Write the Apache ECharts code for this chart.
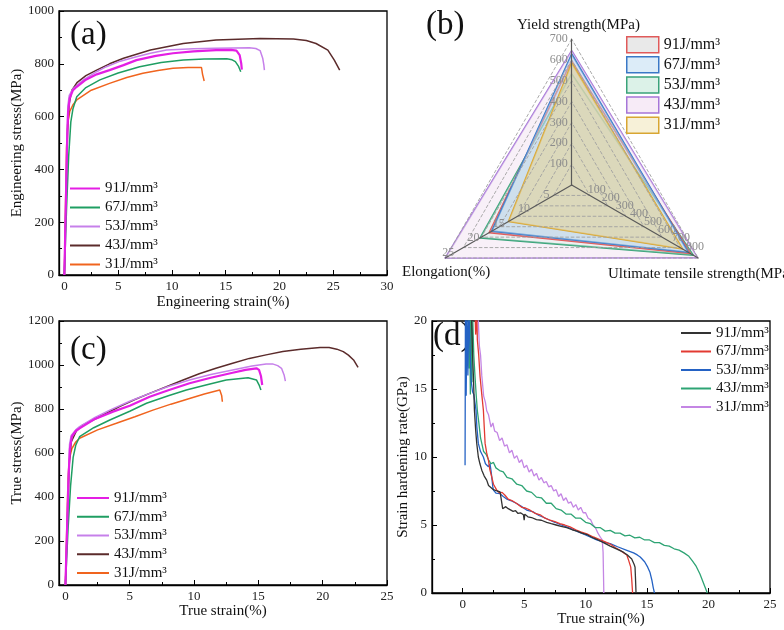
<!DOCTYPE html>
<html><head><meta charset="utf-8">
<script src="https://cdn.jsdelivr.net/npm/echarts@6/dist/echarts.min.js"></script>
<style>html,body{margin:0;padding:0;background:#fff}#c{width:784px;height:630px}</style>
</head><body><div id="c"></div>
<script>
const energies = ['91','67','53','43','31'];

// (a) Engineering stress (MPa) vs engineering strain (%)
const engA91 = [[0,0],[0.15,300],[0.25,500],[0.35,620],[0.5,670],[0.8,700],[1.15,713],[2,740],[3,760],[4.2,776],[5.5,795],[6.7,814],[8.5,830],[10.1,840],[12,847],[14.1,852],[15.5,853],[16.0,850],[16.3,833],[16.45,800],[16.5,778]];
const engA67 = [[0,0],[0.2,250],[0.4,450],[0.6,580],[0.8,630],[1.15,675],[2,710],[3.3,739],[5,765],[7,789],[9,805],[11.05,814],[13,818],[15.1,819],[15.6,815],[15.9,808],[16.2,790],[16.4,770]];
const engA53 = [[0,0],[0.15,320],[0.25,520],[0.32,640],[0.45,680],[0.8,705],[1.76,739],[3,770],[3.9,789],[5.2,810],[6.7,827],[8,840],[9.5,852],[12,857],[14,859],[15.7,860],[17.2,861],[17.8,858],[18.2,850],[18.45,820],[18.55,795],[18.6,776]];
const engA43 = [[0,0],[0.15,280],[0.3,550],[0.45,650],[0.7,700],[1.2,730],[2,755],[3,776],[4.2,800],[5.5,821],[8,852],[11.05,877],[14.1,890],[18.2,896],[21.3,894],[22.5,888],[23.4,877],[24.5,852],[25.1,814],[25.6,776]];
const engA31 = [[0,0],[0.1,250],[0.2,480],[0.3,570],[0.5,620],[0.8,645],[1.15,663],[2.5,700],[4.2,726],[5.8,748],[7.3,764],[8.7,775],[10.1,783],[11.5,786],[12.75,786],[12.85,760],[13.0,735]];

// (c) True stress (MPa) vs true strain (%)
const trueC91 = [[0,0],[0.15,300],[0.25,500],[0.35,620],[0.5,675],[0.8,700],[1.1,712],[2.3,755],[3.7,788],[5,815],[6.55,856],[8,885],[9.65,917],[11.3,942],[13.0,965],[14.0,978],[14.85,985],[15.05,978],[15.2,950],[15.3,909]];
const trueC67 = [[0,0],[0.2,250],[0.4,450],[0.6,580],[0.8,635],[1.1,674],[2.2,715],[3.45,750],[5,790],[6.3,826],[8,860],[9.4,886],[11,910],[12.5,932],[14.2,942],[14.85,932],[15.05,910],[15.2,886]];
const trueC53 = [[0,0],[0.15,320],[0.25,520],[0.32,640],[0.45,680],[0.8,705],[1.1,720],[2.3,762],[3.45,795],[5,835],[6.55,871],[8,902],[9.65,932],[11.3,957],[13.0,977],[14.5,995],[15.6,1005],[16.1,1005],[16.5,997],[16.8,985],[17.0,955],[17.1,927]];
const trueC43 = [[0,0],[0.15,280],[0.3,550],[0.45,650],[0.85,700],[1.3,725],[2.15,750],[3,775],[4.2,811],[5.4,843],[6.55,871],[7.8,900],[9.15,932],[10.4,960],[11.7,985],[13,1008],[14.3,1030],[15.6,1046],[16.9,1061],[18.3,1072],[19.8,1080],[20.5,1080],[21.1,1072],[21.6,1061],[22.0,1045],[22.4,1023],[22.75,989]];
const trueC31 = [[0,0],[0.1,250],[0.2,480],[0.3,570],[0.5,620],[0.8,650],[1.1,667],[2.5,705],[3.96,735],[5.4,765],[6.8,795],[8.2,822],[9.65,848],[10.8,868],[12.0,886],[12.1,885],[12.15,860],[12.2,833]];

// (d) Strain hardening rate (GPa) vs true strain (%)
const hardD91 = [[0.7,21],[0.73,20],[0.8,17.5],[0.87,15.9],[0.95,13.45],[1.05,12],[1.14,11],[1.27,10],[1.4,9.5],[1.55,9.03],[1.75,8.6],[1.95,8.3],[2.1,7.9],[2.22,7.8],[2.5,7.6],[2.8,7.5],[3.04,7.44],[3.2,7.3],[3.25,6.2],[3.35,6.1],[3.5,6.35],[3.7,6.2],[3.85,6.25],[4.1,6.0],[4.3,6.05],[4.5,5.85],[4.7,5.9],[4.94,5.75],[5.0,5.35],[5.05,5.8],[5.3,5.6],[5.6,5.55],[6.0,5.4],[6.4,5.35],[6.83,5.2],[7.2,5.1],[7.6,5.0],[8.0,4.9],[8.46,4.8],[8.9,4.65],[9.3,4.55],[9.7,4.4],[10.1,4.3],[10.5,4.1],[10.9,3.95],[11.45,3.7],[12.0,3.45],[12.5,3.25],[13.07,3.0],[13.4,2.8],[13.75,2.5],[13.95,2.1],[14.02,1.9],[14.06,1.0],[14.1,0]];
const hardD67 = [[1.0,21],[1.05,19],[1.15,20.5],[1.19,18.6],[1.3,17.5],[1.41,15.9],[1.55,14.6],[1.68,13.45],[1.75,12.2],[1.82,11],[1.95,10.3],[2.09,9.77],[2.2,9.1],[2.36,8.54],[2.5,8.0],[2.77,7.56],[3.0,7.35],[3.2,7.4],[3.44,7.19],[3.7,6.9],[4.0,6.8],[4.39,6.58],[4.8,6.3],[5.1,6.25],[5.48,6.09],[5.9,5.85],[6.3,5.75],[6.7,5.5],[7.1,5.35],[7.5,5.25],[7.9,5.1],[8.3,5.0],[8.73,4.86],[9.2,4.65],[9.6,4.5],[10.1,4.35],[10.63,4.12],[11.1,3.95],[11.5,3.8],[12.0,3.6],[12.4,3.35],[12.8,3.14],[13.1,2.95],[13.35,2.8],[13.5,2.4],[13.67,1.9],[13.75,1.0],[13.82,0]];
const hardD53 = [[0.19,9.4],[0.2,13],[0.22,21],[0.28,14.5],[0.35,21],[0.42,16],[0.5,21],[0.6,17.8],[0.7,15.5],[0.8,14.8],[0.9,14.6],[1.0,14.55],[1.08,13.45],[1.15,12.2],[1.27,11],[1.45,10.4],[1.68,10],[1.85,9.5],[2.09,9.28],[2.22,9.5],[2.3,9.0],[2.36,8.54],[2.45,7.8],[2.5,7.56],[2.7,7.35],[3.04,7.3],[3.3,7.1],[3.6,6.9],[3.9,6.8],[4.39,6.58],[4.8,6.35],[5.2,6.1],[5.75,5.96],[6.2,5.7],[6.6,5.55],[7.1,5.35],[7.5,5.2],[8.0,5.0],[8.5,4.85],[8.9,4.7],[9.4,4.5],[9.9,4.3],[10.36,4.12],[10.9,3.9],[11.4,3.75],[12.0,3.63],[12.6,3.4],[13.35,3.14],[13.9,2.95],[14.2,2.8],[14.44,2.65],[14.8,2.3],[15.05,1.9],[15.24,1.5],[15.4,0.9],[15.5,0.4],[15.6,0]];
const hardD43 = [[0.45,21],[0.5,16.5],[0.55,21],[0.62,14.6],[0.68,21],[0.75,15.5],[0.82,20],[0.9,17.5],[1.0,15.9],[1.1,14.5],[1.19,13.4],[1.3,12.6],[1.45,11.4],[1.6,10.8],[1.7,10.4],[1.9,10.2],[2.1,9.8],[2.3,9.5],[2.5,9.6],[2.7,9.2],[3.0,9.0],[3.3,8.9],[3.6,8.5],[4.0,8.4],[4.4,8.0],[4.8,7.9],[5.2,7.5],[5.6,7.4],[6.0,7.05],[6.4,7.0],[6.8,6.6],[7.2,6.6],[7.6,6.2],[8.0,6.1],[8.4,5.8],[8.8,5.8],[9.2,5.5],[9.6,5.5],[10.0,5.2],[10.4,5.1],[10.8,4.8],[11.2,4.8],[11.6,4.55],[12.0,4.6],[12.4,4.4],[12.8,4.4],[13.2,4.2],[13.6,4.25],[14.0,4.05],[14.4,4.1],[14.8,3.9],[15.2,3.9],[15.6,3.7],[16.0,3.7],[16.4,3.5],[16.8,3.45],[17.2,3.25],[17.6,3.15],[18.0,2.95],[18.4,2.7],[18.7,2.35],[19.0,1.95],[19.3,1.4],[19.6,0.7],[19.9,0]];
const hardD31 = [[1.15,21],[1.27,20],[1.35,18.2],[1.45,17.5],[1.55,16],[1.7,14.5],[1.85,14.0],[1.95,13.4],[2.1,13.1],[2.3,12.2],[2.45,12.5],[2.6,11.9],[2.8,11.8],[3.0,11.2],[3.2,11.4],[3.4,10.8],[3.6,10.9],[3.8,10.3],[4.0,10.5],[4.2,9.9],[4.4,10.1],[4.6,9.6],[4.8,9.8],[5.0,9.2],[5.2,9.4],[5.4,8.9],[5.6,9.1],[5.8,8.6],[6.0,8.8],[6.2,8.3],[6.4,8.5],[6.6,8.1],[6.8,8.2],[7.0,7.8],[7.2,7.9],[7.4,7.5],[7.6,7.6],[7.8,7.1],[8.0,7.3],[8.2,6.8],[8.4,7.0],[8.6,6.6],[8.8,6.7],[9.0,6.3],[9.2,6.5],[9.4,6.1],[9.6,6.3],[9.8,5.9],[10.0,5.9],[10.2,5.5],[10.4,5.4],[10.6,5.0],[10.8,4.8],[11.0,4.4],[11.2,4.1],[11.35,3.9],[11.42,3.0],[11.45,1.5],[11.48,0]];

// (b) radar
const radarNames = ['Yield strength(MPa)','Elongation(%)','Ultimate tensile strength(MPa)'];
const radarMax = [700,25,900];
const yieldStrength = [595,628,533,644,585];
const elongation = [16.3,15.8,18.1,25,12.5];
const tensileStrength = [845,830,865,895,790];

// tick labels
const ticksAX = [0,5,10,15,20,25,30];
const minorAX = [2.5,7.5,12.5,17.5,22.5,27.5];
const ticksAY = [0,200,400,600,800,1000];
const ticksCX = [0,5,10,15,20,25];
const minorCX = [2.5,7.5,12.5,17.5,22.5];
const ticksCY = [0,200,400,600,800,1000,1200];
const ticksDX = [0,5,10,15,20,25];
const minorDX = [2.5,7.5,12.5,17.5,22.5];
const ticksDY = [0,5,10,15,20];

const serif = 'Liberation Serif';
const curveColors = ['#e41ee4','#1f9e62','#c680ea','#5b2b2b','#f0641e'];
const curveWidths = [2.2,1.5,1.5,1.5,1.5];
const hardColors = ['#333333','#e23a32','#2462c4','#2ea474','#c486e4'];
const radarLine = ['#e05a5a','#3a78c6','#3aa37a','#a676d8','#d8a632'];
const radarFill = ['#d2d2d2','#b4d6f2','#d4eee2','#f3e4f3','#e6d294'];
const radarOpacity = [0.3,0.45,0.3,0.55,0.55];
const radarLegendFill = ['#e9e9e9','#dcecf8','#dcf2e8','#f7ebf7','#f7f1d8'];
const drawOrder = [3,2,0,1,4];

const engA = [engA91,engA67,engA53,engA43,engA31];
const trueC = [trueC91,trueC67,trueC53,trueC43,trueC31];
const hardD = [hardD91,hardD67,hardD53,hardD43,hardD31];

const labelFmt = n => n.slice(1) + 'J/mm³';
const plainFmt = v => String(v);
const tickLabelStyle = {fontFamily: serif, fontSize: 13, color: '#222', margin: 5, formatter: plainFmt};
const nameStyle = {fontFamily: serif, fontSize: 15, color: '#111'};

function xAxes(gi, min, max, major, minor, name, gap) {
  return [
    {type:'value', gridIndex:gi, min, max, position:'bottom', name, nameLocation:'middle', nameGap:gap,
     nameTextStyle:nameStyle,
     axisLine:{onZero:false, lineStyle:{color:'#000', width:1.3}},
     axisTick:{inside:true, length:5, customValues:major, lineStyle:{color:'#000'}},
     axisLabel:Object.assign({customValues:major}, tickLabelStyle),
     splitLine:{show:false}},
    {type:'value', gridIndex:gi, min, max, position:'bottom',
     axisLine:{show:false}, axisLabel:{show:false},
     axisTick:{inside:true, length:3, customValues:minor, lineStyle:{color:'#000'}},
     splitLine:{show:false}}
  ];
}
function yAxis(gi, max, interval, ticks, name, gap) {
  return {type:'value', gridIndex:gi, min:0, max, interval, name, nameLocation:'middle', nameGap:gap,
    nameTextStyle:nameStyle,
    axisLine:{show:true, onZero:false, lineStyle:{color:'#000', width:1.3}},
    axisTick:{inside:true, length:5, lineStyle:{color:'#000'}},
    minorTick:{show:true, splitNumber:2, length:3, lineStyle:{color:'#000'}},
    axisLabel:Object.assign({customValues:ticks}, tickLabelStyle),
    splitLine:{show:false}, minorSplitLine:{show:false}};
}
const gridBase = {show:true, borderColor:'#000', borderWidth:1.3, backgroundColor:'transparent', containLabel:false};

const series = [];
energies.forEach((e,i) => {
  series.push({type:'line', name:'a'+e, xAxisIndex:0, yAxisIndex:0, data:engA[i], symbol:'none', showSymbol:false,
    lineStyle:{color:curveColors[i], width:curveWidths[i]}, itemStyle:{color:curveColors[i]}, z:10-i});
  series.push({type:'line', name:'c'+e, xAxisIndex:2, yAxisIndex:1, data:trueC[i], symbol:'none', showSymbol:false,
    lineStyle:{color:curveColors[i], width:curveWidths[i]}, itemStyle:{color:curveColors[i]}, z:10-i});
  series.push({type:'line', name:'d'+e, xAxisIndex:4, yAxisIndex:2, data:hardD[i], symbol:'none', showSymbol:false,
    lineStyle:{color:hardColors[i], width:1.3}, itemStyle:{color:hardColors[i]}, z:10-i});
});
series.push({type:'radar', radarIndex:0, symbol:'none', z:2,
  data: drawOrder.map(i => ({name:'b'+energies[i], value:[yieldStrength[i], elongation[i], tensileStrength[i]],
    lineStyle:{color:radarLine[i], width:1.6}, itemStyle:{color:radarLine[i]},
    areaStyle:{color:radarFill[i], opacity:radarOpacity[i]}}))});

function radarComp(split, labelIdx, showGrid) {
  return {center:[571.7,185], radius:146, startAngle:90, shape:'polygon', splitNumber:split, z:4,
    indicator: radarMax.map((m,k) => {
      const ind = {name:'', min:0, max:m};
      if (k === labelIdx) ind.axisLabel = {show:true, showMinLabel:false, margin: k === 1 ? -6 : 4};
      return ind;
    }),
    axisName:{show:false},
    axisLabel:{show:false, fontFamily:serif, fontSize:12, color:'#8c8c8c'},
    axisLine:{show:showGrid, lineStyle:{color:'#5a5a5a', width:1.2}},
    axisTick:{show:false},
    splitLine:{show:showGrid, lineStyle:{color:'#a0a0a0', type:'dashed', width:0.9}},
    splitArea:{show:false}};
}

const legendText = {fontFamily:serif, fontSize:15, color:'#111'};
const option = {
  animation:false,
  backgroundColor:'#fff',
  title:[
    {text:'(a)', left:65, top:14, textStyle:{fontFamily:serif, fontSize:33, fontWeight:'normal', color:'#111'}},
    {text:'(b)', left:421, top:4, textStyle:{fontFamily:serif, fontSize:33, fontWeight:'normal', color:'#111'}},
    {text:'(c)', left:65, top:329, textStyle:{fontFamily:serif, fontSize:33, fontWeight:'normal', color:'#111'}},
    {text:'(d)', left:428, top:315, textStyle:{fontFamily:serif, fontSize:33, fontWeight:'normal', color:'#111'}},
    {text:radarNames[0], left:512, top:13, textStyle:{fontFamily:serif, fontSize:15, fontWeight:'normal', color:'#111'}},
    {text:radarNames[1], left:397, top:260, textStyle:{fontFamily:serif, fontSize:15, fontWeight:'normal', color:'#111'}},
    {text:radarNames[2], left:603, top:262, textStyle:{fontFamily:serif, fontSize:15, fontWeight:'normal', color:'#111'}}
  ],
  grid:[
    Object.assign({left:59, top:11, width:328, height:264}, gridBase),
    Object.assign({left:59, top:321, width:328, height:264}, gridBase),
    Object.assign({left:432, top:321, width:338, height:272}, gridBase)
  ],
  xAxis:[].concat(
    xAxes(0, -0.5, 30, ticksAX, minorAX, 'Engineering strain(%)', 20),
    xAxes(1, -0.5, 25, ticksCX, minorCX, 'True strain(%)', 19),
    xAxes(2, -2.5, 25, ticksDX, minorDX, 'True strain(%)', 18)
  ),
  yAxis:[
    yAxis(0, 1000, 200, ticksAY, 'Engineering stress(MPa)', 26),
    yAxis(1, 1200, 200, ticksCY, 'True stress(MPa)', 26),
    yAxis(2, 20, 5, ticksDY, 'Strain hardening rate(GPa)', 19)
  ],
  radar:[radarComp(7, 0, true), radarComp(5, 1, false), radarComp(9, 2, false)],
  legend:[
    {left:65, top:176, orient:'vertical', icon:'rect', itemWidth:30, itemHeight:2, itemGap:4, selectedMode:false,
     data:energies.map(e => 'a'+e), formatter:labelFmt, textStyle:legendText},
    {left:72, top:485.5, orient:'vertical', icon:'rect', itemWidth:32, itemHeight:2, itemGap:3.75, selectedMode:false,
     data:energies.map(e => 'c'+e), formatter:labelFmt, textStyle:legendText},
    {left:676, top:320.5, orient:'vertical', icon:'rect', itemWidth:30, itemHeight:2, itemGap:3.5, selectedMode:false,
     data:energies.map(e => 'd'+e), formatter:labelFmt, textStyle:legendText},
    {left:621, top:31, orient:'vertical', itemWidth:32, itemHeight:16, itemGap:2.6, selectedMode:false, icon:'rect',
     data:energies.map((e,i) => ({name:'b'+e, itemStyle:{color:radarLegendFill[i], borderColor:radarLine[i], borderWidth:1.5}})),
     formatter:labelFmt, textStyle:{fontFamily:serif, fontSize:16, color:'#111'}}
  ],
  series
};
const chart = echarts.init(document.getElementById('c'), null, {renderer:'canvas'});
chart.setOption(option);
</script></body></html>
